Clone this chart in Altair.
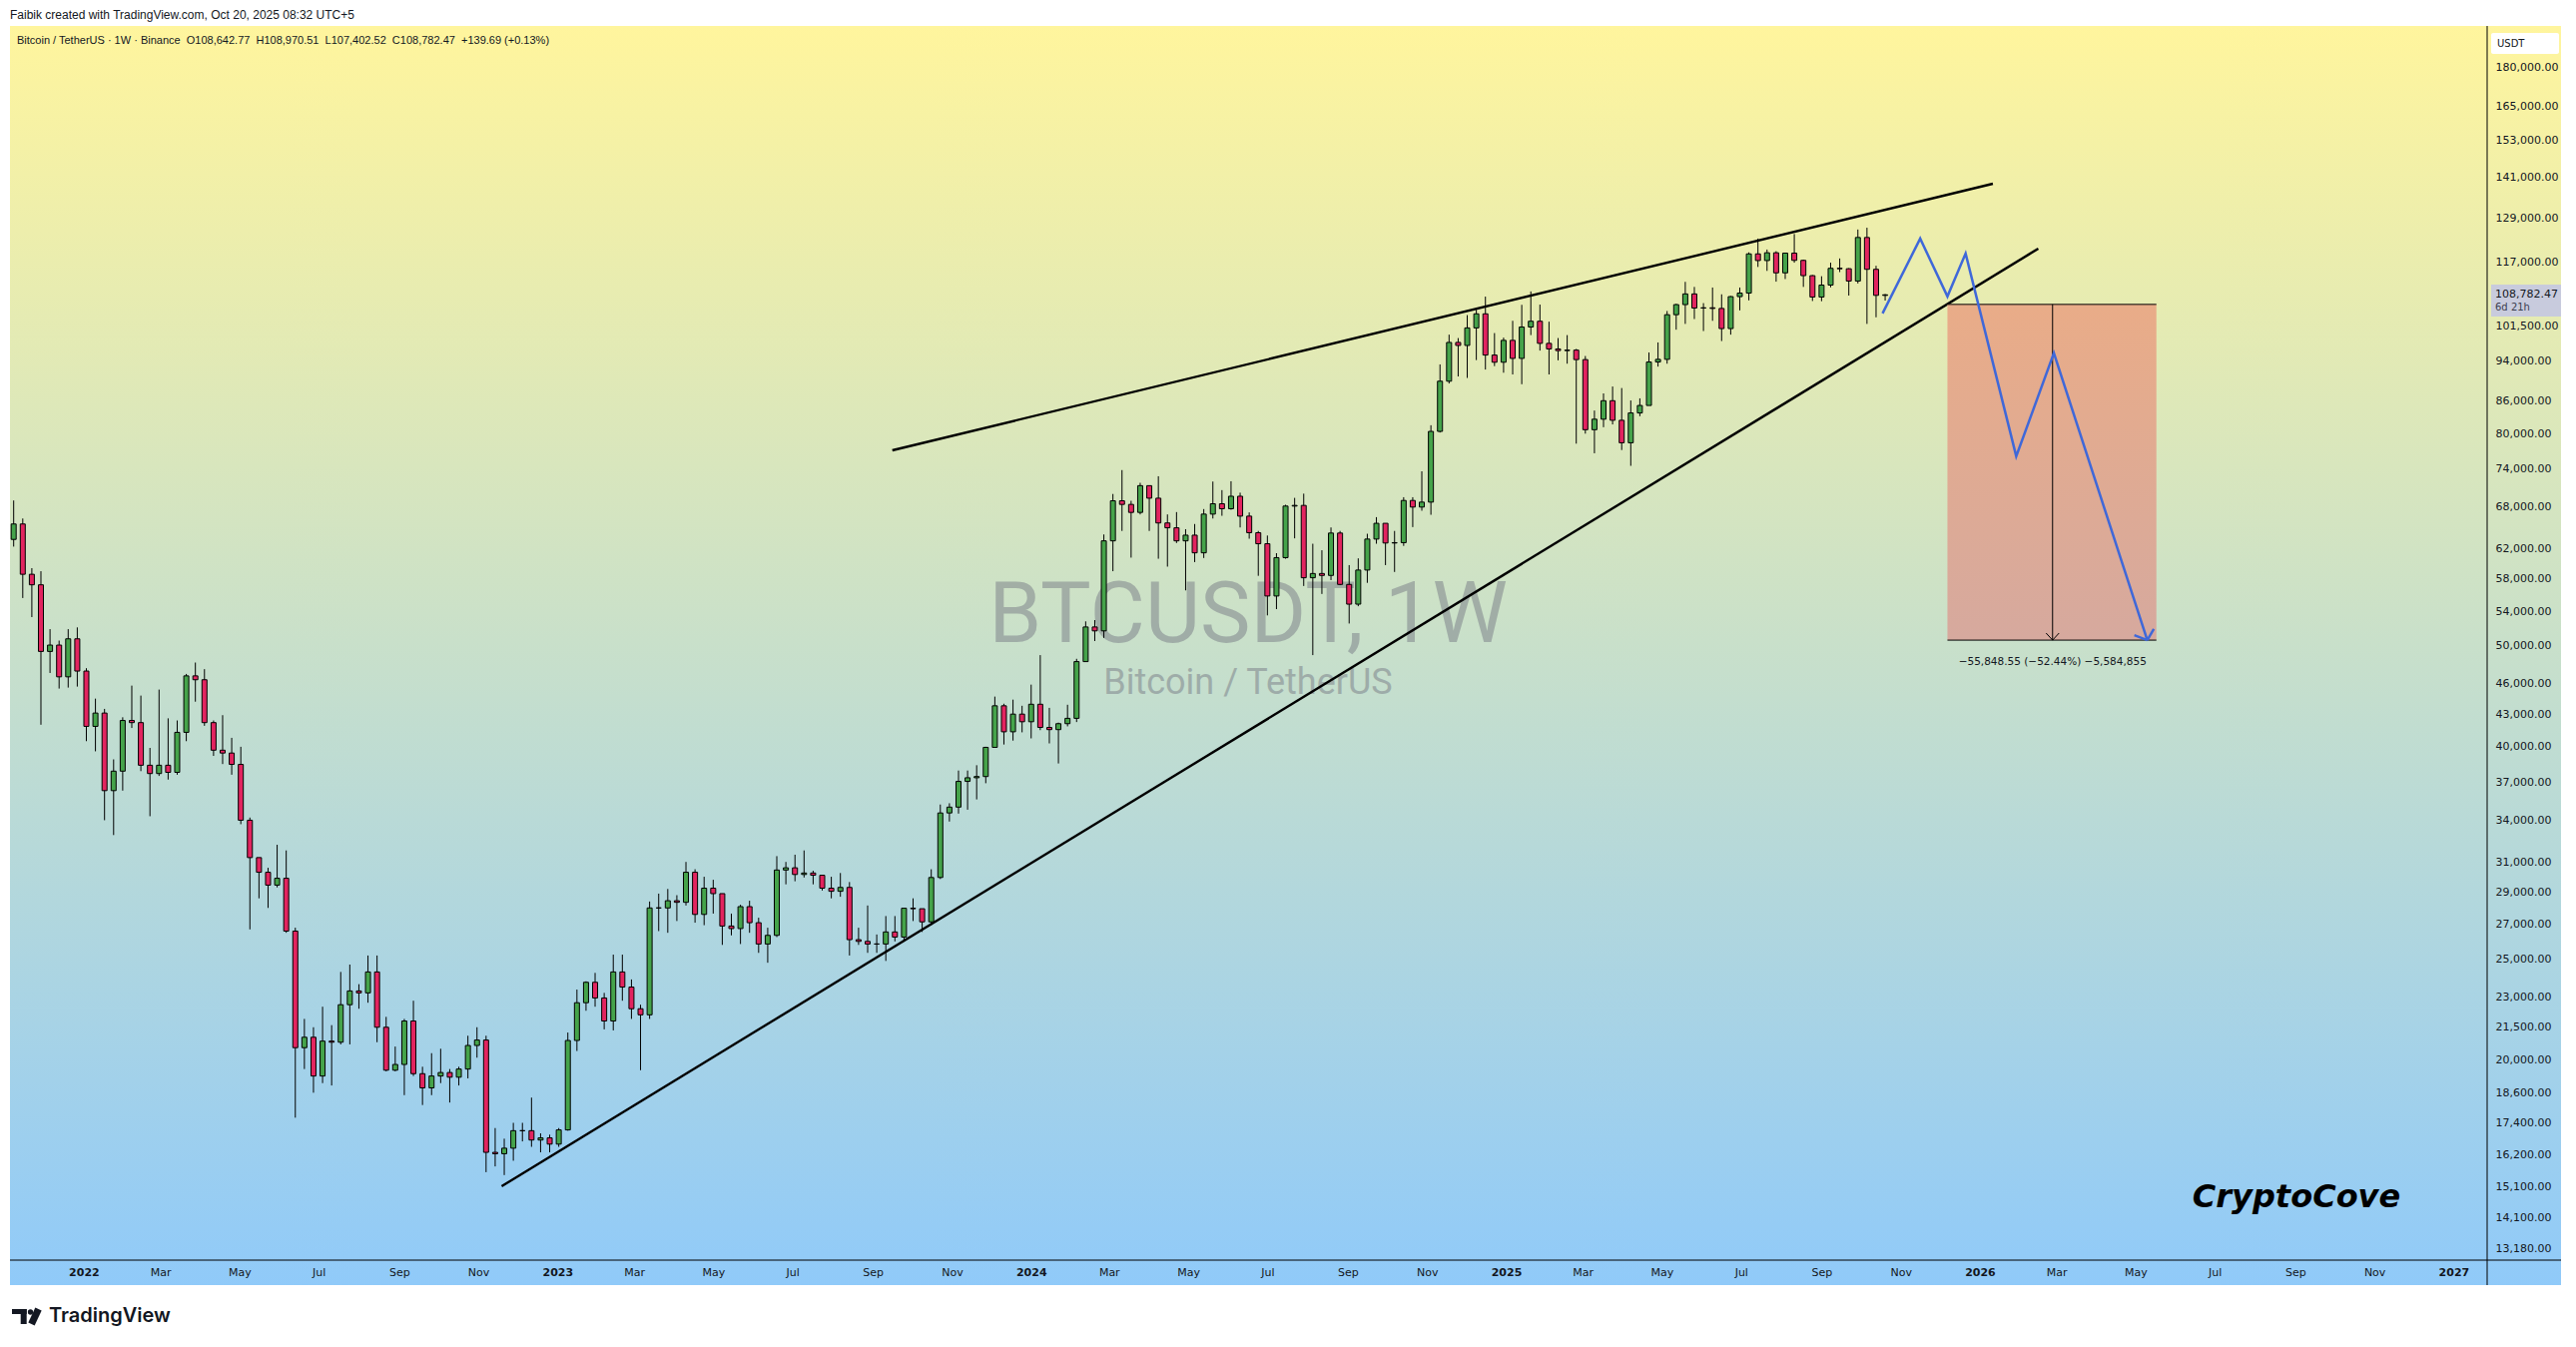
import altair as alt
import pandas as pd
import numpy as np

# ---------------- data (weekly BTC/USDT candles) ----------------
first_open = 63300
last_open = 108642.77

close_2021 = [65500, 58600, 57250, 49400, 50100, 46700, 50800, 47300]
high_2021 = [69000, 66300, 59400, 59000, 51900, 50600, 51900, 52100]
low_2021 = [62300, 55600, 53300, 42000, 47100, 45500, 45600, 45700]

close_2022 = [41850, 43100, 36300, 37900, 42400, 42200, 38400, 37700, 38400, 37800, 41300, 46800, 46400,
              42200, 39700, 39450, 38470, 34000, 31300, 30300, 29450, 29900, 26600, 20550, 21030, 19300,
              20850, 20800, 22600, 23300, 23200, 24300, 21500, 19550, 19800, 21800, 19400, 18800, 19300,
              19450, 19250, 19600, 20650, 20900, 16300, 16250, 16450, 17100, 17100, 16750, 16830, 16600]
high_2022 = [47600, 44500, 43500, 38900, 42700, 45800, 44800, 39900, 45400, 42600, 42400, 47000, 48200,
             47500, 42400, 42900, 40800, 40000, 34200, 31300, 30600, 32200, 31800, 26800, 21900, 21500,
             22500, 21600, 24300, 24700, 23650, 25200, 25200, 22000, 20600, 21900, 22800, 19700, 20300,
             20500, 19600, 19700, 21100, 21500, 21100, 17200, 16800, 17400, 17400, 18400, 17000, 16950]
low_2022 = [40500, 39600, 34000, 32900, 36300, 41700, 37900, 34300, 37500, 37200, 37600, 40500, 44200,
            41900, 39200, 38500, 37600, 33700, 26700, 28600, 28000, 29300, 26500, 17600, 19600, 18600,
            19000, 18900, 20700, 20700, 22400, 22700, 20800, 19500, 19500, 18500, 19300, 18100, 18500,
            19000, 18200, 18900, 19200, 20100, 15600, 15800, 15500, 16000, 16700, 16500, 16300, 16300]

close_2023 = [17130, 20880, 22700, 23750, 22940, 21800, 24300, 23500, 22400, 22100, 28000, 28000, 28450,
              28350, 30300, 27600, 29250, 28900, 26900, 26750, 28080, 27100, 25850, 26350, 30450, 30600,
              30150, 30250, 30100, 29250, 29050, 29300, 26100, 26000, 25850, 25850, 26550, 26250, 27980,
              27950, 27150, 29950, 34550, 35000, 37050, 37350, 37450, 39950, 43800, 41350, 43000, 42280]
high_2023 = [17200, 21250, 23370, 23800, 24250, 23200, 25250, 25250, 23900, 22600, 28400, 28900, 29200,
             28800, 31000, 30500, 30000, 29800, 28900, 27650, 28200, 28450, 27400, 26800, 31400, 31000,
             31500, 31800, 30400, 30100, 30000, 30250, 29650, 26800, 28150, 26400, 27500, 27500, 28000,
             28600, 27950, 30500, 35200, 35300, 37950, 37950, 38400, 40000, 44700, 44000, 44400, 43800]
low_2023 = [16500, 17100, 20400, 22300, 22500, 21400, 21350, 22800, 21900, 19550, 21900, 26600, 26500,
            27200, 28150, 27100, 26950, 27650, 25800, 26350, 25850, 26500, 25350, 24800, 26250, 29500,
            29700, 29950, 29500, 29100, 28600, 28700, 25200, 25800, 25350, 25350, 24900, 26000, 26000,
            27200, 26550, 26950, 29850, 33900, 34500, 34800, 35600, 36900, 39950, 40200, 40550, 41300]

close_2024 = [43950, 41750, 41550, 42100, 42600, 48300, 52150, 51700, 63100, 68950, 68400, 67200, 71300,
              69350, 65650, 64950, 63100, 63900, 61450, 66950, 68500, 67750, 69650, 66650, 64250, 62700,
              55850, 60800, 68150, 68250, 58150, 58700, 58450, 64200, 57300, 54850, 59150, 63350, 65600,
              62800, 62850, 69000, 68000, 68750, 80400, 89850, 97900, 97250, 101100, 104300, 95200, 93700,
              98350]
high_2024 = [45900, 49000, 43600, 42200, 43900, 48600, 52800, 52950, 64000, 70000, 73800, 68950, 71750,
             71350, 72800, 66900, 67250, 64750, 65500, 67700, 71950, 70600, 72000, 70200, 67200, 64500,
             63850, 61400, 68350, 69400, 70050, 62700, 61800, 65000, 64500, 59800, 60700, 64100, 66500,
             65550, 64500, 69500, 69500, 73600, 81500, 93250, 99600, 98850, 104000, 105250, 108350, 99950,
             98950]
low_2024 = [40750, 41500, 40300, 38550, 41850, 42250, 48350, 50550, 50900, 59000, 64500, 60800, 66900,
            64500, 60650, 59600, 62800, 56550, 60200, 60750, 66300, 66700, 67600, 65000, 63400, 58400,
            53500, 54250, 60650, 63450, 57100, 49000, 56100, 57850, 57200, 52550, 54600, 57500, 62700,
            59800, 58900, 62400, 65050, 67450, 66850, 80200, 89400, 90800, 90500, 94150, 92200, 92900,
            91550]

close_2025 = [94500, 101300, 102600, 97700, 96500, 96150, 96250, 94250, 80700, 82600, 86050, 82400, 78400,
              83750, 85150, 93750, 94300, 104100, 106450, 109000, 105650, 105700, 105550, 100950, 108350,
              109200, 119100, 117350, 119400, 114200, 119300, 117400, 113500, 108250, 111150, 115350,
              115250, 112150, 123500, 115100, 108650, 108782.47]
high_2025 = [102700, 106400, 109600, 106450, 102500, 98850, 99500, 96500, 95000, 84200, 87450, 88800, 88500,
             86100, 86500, 95750, 97900, 104950, 106650, 111950, 110700, 106800, 110550, 108900, 108500,
             110550, 119500, 123200, 120250, 119800, 119350, 124450, 117600, 113650, 113350, 116800,
             117900, 115400, 125700, 126200, 116000, 108970.51]
low_2025 = [91200, 89250, 99500, 96150, 91200, 94100, 93400, 78250, 80000, 76600, 81150, 81650, 77150,
            74500, 83150, 85150, 92800, 93400, 100700, 102000, 103100, 100400, 102700, 98200, 99600,
            105100, 107450, 115700, 114700, 112000, 112650, 116800, 110700, 107300, 107250, 110600,
            114400, 108600, 111550, 102000, 103500, 107402.52]

closes = close_2021 + close_2022 + close_2023 + close_2024 + close_2025
highs = high_2021 + high_2022 + high_2023 + high_2024 + high_2025
lows = low_2021 + low_2022 + low_2023 + low_2024 + low_2025
assert len(closes) == len(highs) == len(lows)

dates = pd.date_range("2021-11-08", periods=len(closes), freq="7D").strftime("%Y-%m-%d").tolist()
opens = [first_open] + closes[:-1]
opens[-1] = last_open

candles = pd.DataFrame({"date": dates, "open": opens, "high": highs, "low": lows, "close": closes})
candles["dir"] = np.where(candles["close"] >= candles["open"], "up", "down")

# Wedge trend lines
trend_id = ["upper", "upper", "lower", "lower"]
trend_date = ["2023-09-16", "2026-01-11", "2022-11-19", "2026-02-15"]
trend_price = [77100, 139100, 15120, 120500]

# Blue projected path
path_date = ["2025-10-18", "2025-11-16", "2025-12-07", "2025-12-21", "2026-01-29", "2026-02-27", "2026-05-10"]
path_price = [104400, 123200, 108400, 119200, 76100, 95600, 50651.45]
path_arrow_id = ["a", "a", "b", "b"]
path_arrow_date = ["2026-05-10", "2026-04-30", "2026-05-10", "2026-05-15"]
path_arrow_price = [50651.45, 51210, 50651.45, 51910]

# Date/price range box
range_start, range_end, range_mid = "2025-12-07", "2026-05-17", "2026-02-26"
range_from, range_to = 106500.0, 50651.45
range_label = "\u221255,848.55 (\u221252.44%) \u22125,584,855"
mid_arrow_id = ["a", "a", "b", "b"]
mid_arrow_date = ["2026-02-26", "2026-02-21", "2026-02-26", "2026-03-03"]
mid_arrow_price = [50651.45, 51450, 50651.45, 51450]

y_ticks = [180000, 165000, 153000, 141000, 129000, 117000, 101500, 94000, 86000, 80000, 74000, 68000,
           62000, 58000, 54000, 50000, 46000, 43000, 40000, 37000, 34000, 31000, 29000, 27000, 25000,
           23000, 21500, 20000, 18600, 17400, 16200, 15100, 14100, 13180]
x_tick_years = [2022, 2023, 2024, 2025, 2026]
x_tick_months = [1, 3, 5, 7, 9, 11]

last_price = 108782.47
header1 = "Faibik created with TradingView.com, Oct 20, 2025 08:32 UTC+5"
header2 = ("Bitcoin / TetherUS \u00b7 1W \u00b7 Binance\u00a0\u00a0O108,642.77\u00a0\u00a0H108,970.51\u00a0\u00a0"
           "L107,402.52\u00a0\u00a0C108,782.47\u00a0\u00a0+139.69 (+0.13%)")

# ---------------- layout ----------------
W, H = 2481, 1236
FONT = "DejaVu Sans"
TXT = "#131722"

x_values = [alt.DateTime(year=y, month=m, date=1, utc=True) for y in x_tick_years for m in x_tick_months]
x_values.append(alt.DateTime(year=2027, month=1, date=1, utc=True))

xscale = alt.Scale(type="utc",
                   domain=[alt.DateTime(year=2021, month=11, date=9, utc=True),
                           alt.DateTime(year=2027, month=1, date=23, utc=True)])
yscale = alt.Scale(type="log", domain=[12840, 197250], nice=False, zero=False)

xaxis = alt.Axis(values=x_values, title=None, grid=False, ticks=False, domain=False,
                 labelExpr="utcmonth(datum.value)==0 ? utcFormat(datum.value,'%Y') : utcFormat(datum.value,'%b')",
                 labelFontWeight={"condition": {"test": "utcmonth(datum.value)==0", "value": "bold"},
                                  "value": "normal"},
                 labelFont=FONT, labelFontSize=11, labelColor=TXT, labelPadding=6,
                 labelFlush=False, labelOverlap=False, zindex=1)
yaxis = alt.Axis(orient="right", values=y_ticks, format=",.2f", title=None, grid=False, ticks=False,
                 domain=False, labelFont=FONT, labelFontSize=11, labelColor=TXT, labelPadding=8,
                 labelBaseline="middle", labelOverlap=False, labelFlush=False, zindex=1)


def X(f):
    return alt.X(f"{f}:T", scale=xscale, axis=xaxis, title=None)


def Y(f):
    return alt.Y(f"{f}:Q", scale=yscale, axis=yaxis, title=None)


dummy = pd.DataFrame({"k": [0]})

# background gradient (covers plot + axis areas)
bg = alt.Chart(dummy).mark_rect(
    color=alt.Gradient(gradient="linear",
                       stops=[alt.GradientStop(color="#fff59d", offset=0),
                              alt.GradientStop(color="#90caf9", offset=1)],
                       x1=0, x2=0, y1=0, y2=1),
    clip=False
).encode(x=alt.value(0), x2=alt.value(2555), y=alt.value(0), y2=alt.value(1261))

wm1 = alt.Chart(dummy).mark_text(text="BTCUSDT, 1W", font="Roboto", fontSize=85, color="#787b86",
                                 opacity=0.5, align="center", baseline="middle").encode(
    x=alt.value(1240), y=alt.value(591))
wm2 = alt.Chart(dummy).mark_text(text="Bitcoin / TetherUS", font="Roboto", fontSize=36, color="#787b86",
                                 opacity=0.5, align="center", baseline="middle").encode(
    x=alt.value(1240), y=alt.value(658))

wicks = alt.Chart(candles).mark_rule(color="#000000", strokeWidth=1, clip=True).encode(
    x=X("date"), y=Y("low"), y2=alt.Y2("high"))
bodies = alt.Chart(candles).mark_bar(size=5, stroke="#000000", strokeWidth=1, clip=True).encode(
    x=X("date"), y=Y("open"), y2=alt.Y2("close"),
    color=alt.Color("dir:N", scale=alt.Scale(domain=["up", "down"], range=["#45a34a", "#e2245f"]),
                    legend=None))

trend_df = pd.DataFrame({"id": trend_id, "date": trend_date, "price": trend_price})
trends = alt.Chart(trend_df).mark_line(color="#000000", strokeWidth=2.4).encode(
    x=X("date"), y=Y("price"), detail="id:N")

rng_df = pd.DataFrame({"start": [range_start], "end": [range_end], "mid": [range_mid],
                       "top": [range_from], "bottom": [range_to], "label": [range_label]})
rng_rect = alt.Chart(rng_df).mark_rect(
    color=alt.Gradient(gradient="linear",
                       stops=[alt.GradientStop(color="#e9ac88", offset=0),
                              alt.GradientStop(color="#d6a99e", offset=1)],
                       x1=0, x2=0, y1=0, y2=1)
).encode(x=X("start"), x2=alt.X2("end"), y=Y("top"), y2=alt.Y2("bottom"))
rng_top = alt.Chart(rng_df).mark_rule(color="#000000", strokeWidth=1).encode(
    x=X("start"), x2=alt.X2("end"), y=Y("top"))
rng_bot = alt.Chart(rng_df).mark_rule(color="#000000", strokeWidth=1).encode(
    x=X("start"), x2=alt.X2("end"), y=Y("bottom"))
rng_mid = alt.Chart(rng_df).mark_rule(color="#000000", strokeWidth=1).encode(
    x=X("mid"), y=Y("top"), y2=alt.Y2("bottom"))
mid_arrow_df = pd.DataFrame({"id": mid_arrow_id, "date": mid_arrow_date, "price": mid_arrow_price})
rng_arrow = alt.Chart(mid_arrow_df).mark_line(color="#000000", strokeWidth=1).encode(
    x=X("date"), y=Y("price"), detail="id:N")
rng_text = alt.Chart(rng_df).mark_text(font=FONT, fontSize=10.5, color=TXT, align="center",
                                       baseline="middle", dy=22).encode(
    x=X("mid"), y=Y("bottom"), text="label:N")

path_df = pd.DataFrame({"seq": list(range(len(path_date))), "date": path_date, "price": path_price})
path = alt.Chart(path_df).mark_line(color="#3f68d9", strokeWidth=2.5).encode(
    x=X("date"), y=Y("price"), order="seq:Q")
parrow_df = pd.DataFrame({"id": path_arrow_id, "date": path_arrow_date, "price": path_arrow_price})
parrow = alt.Chart(parrow_df).mark_line(color="#3f68d9", strokeWidth=2.5).encode(
    x=X("date"), y=Y("price"), detail="id:N")

# axis chrome
hline = alt.Chart(dummy).mark_rule(color="#000000", strokeWidth=1).encode(
    x=alt.value(0), x2=alt.value(2555), y=alt.value(1236))
vline = alt.Chart(dummy).mark_rule(color="#000000", strokeWidth=1).encode(
    x=alt.value(2481), y=alt.value(0), y2=alt.value(1261))
usdt_box = alt.Chart(dummy).mark_rect(color="#ffffff", cornerRadius=2).encode(
    x=alt.value(2485), x2=alt.value(2553), y=alt.value(7), y2=alt.value(28))
usdt_txt = alt.Chart(dummy).mark_text(text="USDT", font=FONT, fontSize=10, color=TXT, align="left",
                                      baseline="middle").encode(x=alt.value(2491), y=alt.value(18))
price_box = alt.Chart(dummy).mark_rect(color="#c8cbdd").encode(
    x=alt.value(2485), x2=alt.value(2555), y=alt.value(259), y2=alt.value(291))
price_df = pd.DataFrame({"price": [last_price], "t1": ["108,782.47"], "t2": ["6d 21h"]})
price_t1 = alt.Chart(price_df).mark_text(font=FONT, fontSize=11, color=TXT, align="left",
                                         baseline="middle").encode(
    x=alt.value(2489), y=Y("price"), text="t1:N")
price_t2 = alt.Chart(price_df).mark_text(font=FONT, fontSize=10, color="#3c4050", align="left",
                                         baseline="middle", dy=13).encode(
    x=alt.value(2489), y=Y("price"), text="t2:N")

# texts
h1 = alt.Chart(dummy).mark_text(text=header1, font="Liberation Sans", fontSize=12, color=TXT,
                                align="left", baseline="middle").encode(x=alt.value(0), y=alt.value(-11))
h2 = alt.Chart(dummy).mark_text(text=header2, font="Liberation Sans", fontSize=11, color=TXT,
                                align="left", baseline="middle").encode(x=alt.value(7), y=alt.value(15))
cove = alt.Chart(dummy).mark_text(text="CryptoCove", font=FONT, fontSize=32, fontWeight="bold",
                                  fontStyle="italic", color="#000000", align="center",
                                  baseline="middle").encode(x=alt.value(2290), y=alt.value(1173))

# TradingView logo
logo_bar = alt.Chart(dummy).mark_rect(color="#131722").encode(
    x=alt.value(2), x2=alt.value(16.7), y=alt.value(1285), y2=alt.value(1290))
logo_stem = alt.Chart(dummy).mark_rect(color="#131722").encode(
    x=alt.value(10.7), x2=alt.value(16.7), y=alt.value(1285), y2=alt.value(1300))
logo_dot = alt.Chart(dummy).mark_circle(color="#131722", opacity=1, size=28).encode(
    x=alt.value(20.5), y=alt.value(1288))
logo_slash = alt.Chart(dummy).mark_rule(color="#131722", strokeWidth=7, strokeCap="butt").encode(
    x=alt.value(28.5), x2=alt.value(21.5), y=alt.value(1285), y2=alt.value(1300))
logo_txt = alt.Chart(dummy).mark_text(text="TradingView", font="Inter", fontSize=20, fontWeight=600,
                                      color="#131722", align="left", baseline="middle").encode(
    x=alt.value(39), y=alt.value(1292))

chart = alt.layer(
    bg, wm1, wm2, wicks, bodies, trends,
    rng_rect, rng_top, rng_bot, rng_mid, rng_arrow, rng_text,
    path, parrow,
    hline, vline, usdt_box, usdt_txt, price_box, price_t1, price_t2,
    h1, h2, cove,
    logo_bar, logo_stem, logo_dot, logo_slash, logo_txt
).properties(
    width=W, height=H,
    autosize=alt.AutoSizeParams(type="none"),
    padding={"left": 2, "top": 18, "right": 81, "bottom": 79},
    background="#ffffff"
).configure_view(strokeWidth=0)

chart.save("out.html", embed_options={"renderer": "svg", "actions": False})
